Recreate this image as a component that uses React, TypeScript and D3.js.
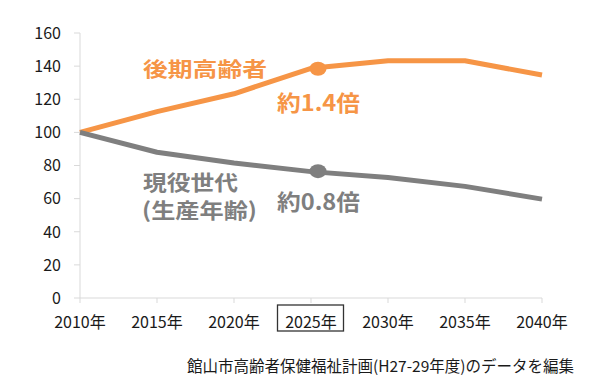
import React from "react";
import * as d3 from "d3";

const years = ["2010年", "2015年", "2020年", "2025年", "2030年", "2035年", "2040年"];
const elderly = [100, 112.5, 123.3, 138.7, 143.3, 143.2, 134.6];
const working = [100, 88, 81.5, 76.3, 72.8, 67.4, 59.7];
const yTicks = [0, 20, 40, 60, 80, 100, 120, 140, 160];
const highlightIndex = 3;

const ORANGE = "#F69546";
const GRAY = "#7F7F7F";
const FONT = "'Noto Sans CJK JP', 'Noto Sans', sans-serif";

export default function App() {
  const W = 600, H = 391;
  const x = d3.scalePoint<string>().domain(years).range([80, 542]);
  const y = d3.scaleLinear().domain([0, 160]).range([298, 33]);
  const line = d3.line<number>().x((_, i) => x(years[i])!).y((d) => y(d));
  const hx = x(years[highlightIndex])!;

  return (
    <svg width={W} height={H} style={{ position: "absolute", left: 0, top: 0, fontFamily: FONT }}>
      <rect width={W} height={H} fill="#fff" />
      {/* axes */}
      <line x1={80} x2={80} y1={y(160)} y2={y(0)} stroke="#D9D9D9" strokeWidth={1} />
      <line x1={80} x2={542} y1={y(0)} y2={y(0)} stroke="#D9D9D9" strokeWidth={1} />
      {yTicks.map((t) => (
        <g key={t}>
          <line x1={74} x2={80} y1={y(t)} y2={y(t)} stroke="#D9D9D9" />
          <text x={61} y={y(t)} dy="0.36em" textAnchor="end" fontSize={16} fill="#1a1a1a">{t}</text>
        </g>
      ))}
      {years.map((yr) => (
        <g key={yr}>
          <line x1={x(yr)} x2={x(yr)} y1={y(0)} y2={y(0) + 5} stroke="#D9D9D9" />
          <text x={x(yr)} y={328} textAnchor="middle" fontSize={16} fill="#1a1a1a">{yr}</text>
        </g>
      ))}
      <rect x={hx - 33.5} y={305} width={66} height={26} fill="none" stroke="#333" strokeWidth={1.3} />
      {/* lines */}
      <path d={line(elderly)!} fill="none" stroke={ORANGE} strokeWidth={5} strokeLinejoin="round" />
      <path d={line(working)!} fill="none" stroke={GRAY} strokeWidth={5} strokeLinejoin="round" />
      <ellipse cx={hx + 7} cy={y(elderly[highlightIndex]) + 0.5} rx={8.5} ry={7} fill={ORANGE} />
      <ellipse cx={hx + 7} cy={y(working[highlightIndex]) - 0.5} rx={8.5} ry={7} fill={GRAY} />
      {/* labels */}
      <text x={143} y={77} fontSize={20} fontWeight="bold" fill={ORANGE} textLength={124} lengthAdjust="spacingAndGlyphs">後期高齢者</text>
      <text x={277} y={111} fontSize={22} fontWeight="bold" fill={ORANGE} textLength={83} lengthAdjust="spacingAndGlyphs">約1.4倍</text>
      <text x={143} y={190} fontSize={21} fontWeight="bold" fill={GRAY} textLength={95} lengthAdjust="spacingAndGlyphs">現役世代</text>
      <text x={142} y={218} fontSize={21} fontWeight="bold" fill={GRAY} textLength={115} lengthAdjust="spacingAndGlyphs">(生産年齢)</text>
      <text x={277} y={210} fontSize={22} fontWeight="bold" fill={GRAY} textLength={83} lengthAdjust="spacingAndGlyphs">約0.8倍</text>
      <text x={574} y={372} textAnchor="end" fontSize={15.5} fill="#1a1a1a">館山市高齢者保健福祉計画(H27-29年度)のデータを編集</text>
    </svg>
  );
}
